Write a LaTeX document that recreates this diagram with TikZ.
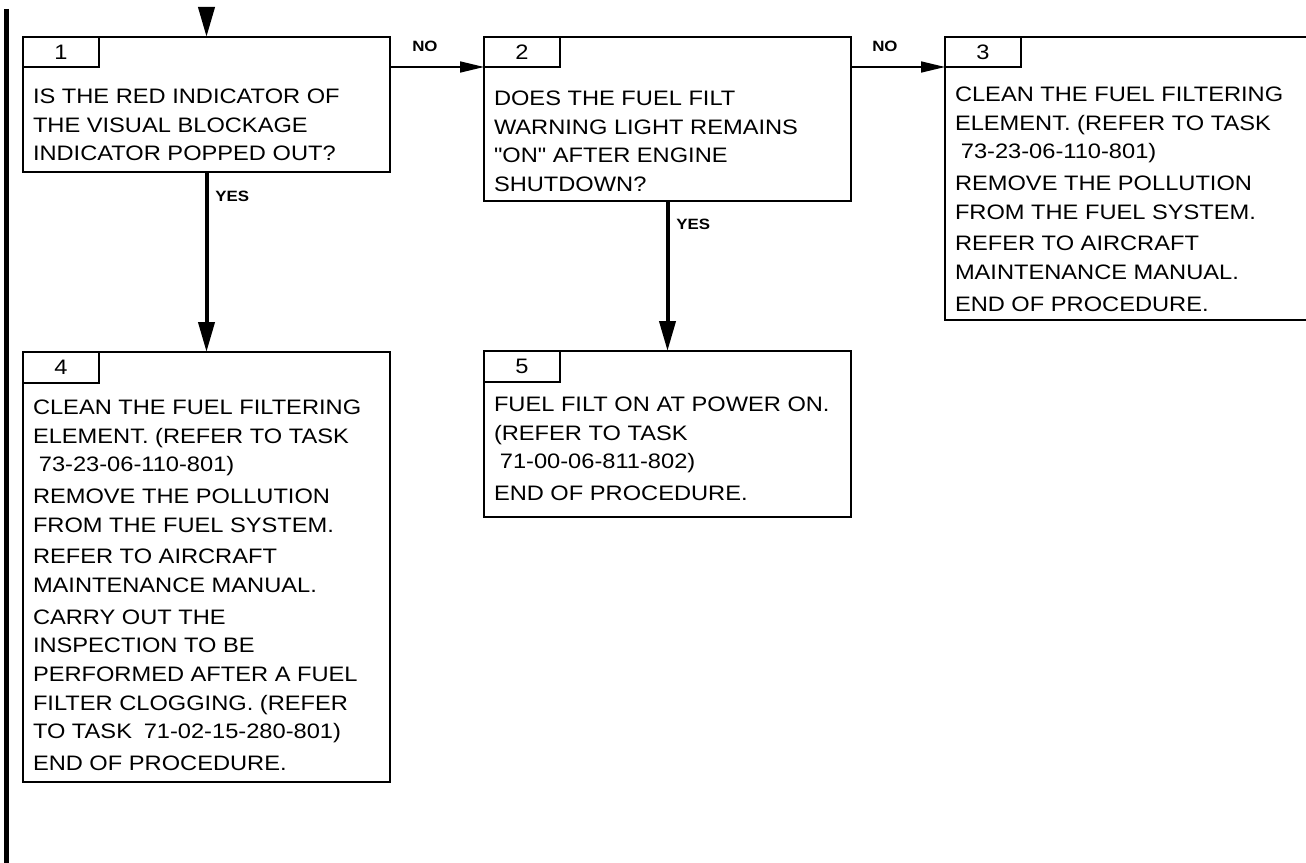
\documentclass[tikz,border=0pt]{standalone}
\usepackage{fontspec}
\setmainfont{Liberation Sans}[FakeStretch=1.13, Ligatures=TeXOff]
\usetikzlibrary{arrows.meta,calc}
\newcommand{\bodyfnt}{\fontsize{15.7pt}{21.5pt}\selectfont}
\newcommand{\lblfnt}{\fontsize{11.2pt}{13pt}\selectfont\bfseries}
\newcommand{\ind}{\hspace*{0.28em}}
\tikzset{
  box/.style={draw, line width=1.5pt, rectangle, inner sep=0pt, outer sep=0pt, anchor=north west},
  tabbox/.style={draw, line width=1.5pt, rectangle, inner sep=0pt, outer sep=0pt, anchor=north west, minimum width=57pt, minimum height=22.5pt, font=\bodyfnt},
  body/.style={anchor=north west, inner sep=0pt, outer sep=0pt, align=left, font=\bodyfnt},
  lbl/.style={anchor=base west, inner sep=0pt, font=\lblfnt},
  harrow/.style={line width=1.1pt, -{Triangle[length=18pt,width=8.3pt]}},
  varrow/.style={line width=3pt, -{Triangle[length=22.5pt,width=12pt]}},
  bar/.style={line width=3.6pt},
}
\begin{document}
\begin{tikzpicture}[x=0.75pt,y=-0.75pt]
\useasboundingbox (0,0) rectangle (1306,863);
% left bar
\coordinate (bartop) at (6.5,9);
\coordinate (barbot) at (6.5,870);
\draw[bar] (bartop) -- (barbot);

% boxes
\node[box, minimum width=275.25pt, minimum height=101.25pt] (b1) at (23,37) {};
\node[box, minimum width=275.25pt, minimum height=123pt] (b2) at (484,37) {};
\node[box, minimum width=281.25pt, minimum height=212.25pt] (b3) at (945,37) {};
\node[box, minimum width=275.25pt, minimum height=322.5pt] (b4) at (23,352) {};
\node[box, minimum width=275.25pt, minimum height=124.5pt] (b5) at (484,351) {};

% tabs
\node[tabbox] (t1) at (b1.north west) {1};
\node[tabbox] (t2) at (b2.north west) {2};
\node[tabbox] (t3) at (b3.north west) {3};
\node[tabbox, minimum height=23.25pt] (t4) at (b4.north west) {4};
\node[tabbox, minimum height=23.25pt] (t5) at (b5.north west) {5};

% texts
\node[body] (x1) at ($(b1.north west)+(10,52)$) {IS THE RED INDICATOR OF\\THE VISUAL BLOCKAGE\\INDICATOR POPPED OUT?};
\node[body] (x2) at ($(b2.north west)+(10,54)$) {DOES THE FUEL FILT\\WARNING LIGHT REMAINS\\"ON" AFTER ENGINE\\SHUTDOWN?};
\node[body] (x3) at ($(b3.north west)+(10,50)$) {CLEAN THE FUEL FILTERING\\ELEMENT. (REFER TO TASK\\\ind 73-23-06-110-801)\\[2.25pt]REMOVE THE POLLUTION\\FROM THE FUEL SYSTEM.\\[2.25pt]REFER TO AIRCRAFT\\MAINTENANCE MANUAL.\\[2.25pt]END OF PROCEDURE.};
\node[body] (x4) at ($(b4.north west)+(10,48)$) {CLEAN THE FUEL FILTERING\\ELEMENT. (REFER TO TASK\\\ind 73-23-06-110-801)\\[2.25pt]REMOVE THE POLLUTION\\FROM THE FUEL SYSTEM.\\[2.25pt]REFER TO AIRCRAFT\\MAINTENANCE MANUAL.\\[2.25pt]CARRY OUT THE\\INSPECTION TO BE\\PERFORMED AFTER A FUEL\\FILTER CLOGGING. (REFER\\TO TASK\ind\ind 71-02-15-280-801)\\[2.25pt]END OF PROCEDURE.};
\node[body] (x5) at ($(b5.north west)+(10,46)$) {FUEL FILT ON AT POWER ON.\\(REFER TO TASK\\\ind 71-00-06-811-802)\\[2.25pt]END OF PROCEDURE.};

% connectors
\coordinate (in1) at ($(b1.north)+(0,-29)$);
\draw[varrow] (in1) -- (b1.north);
\draw[harrow] (b1.east |- t2.south west) -- (t2.south west);
\draw[harrow] (b2.east |- t3.south west) -- (t3.south west);
\draw[varrow] (b1.south) -- (b4.north);
\draw[varrow] (b2.south) -- (b5.north);

% labels
\node[lbl] (no1) at (412,52) {NO};
\node[lbl] (no2) at (872,52) {NO};
\node[lbl] (yes1) at (215,201) {YES};
\node[lbl] (yes2) at (676,229) {YES};
\end{tikzpicture}
\end{document}
